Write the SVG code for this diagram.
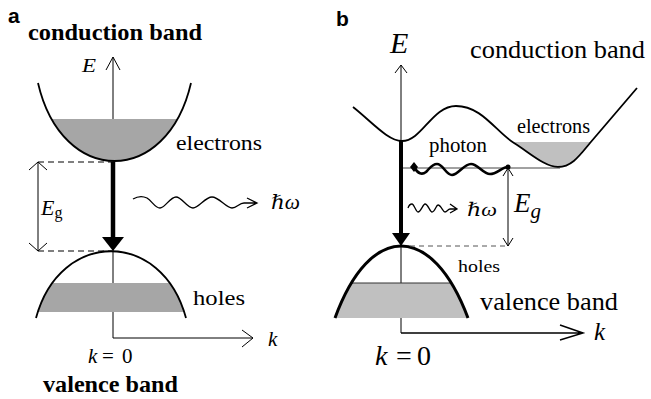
<svg xmlns="http://www.w3.org/2000/svg" width="651" height="399" viewBox="0 0 651 399" font-family="'Liberation Serif', 'Times New Roman', serif">
<style>
text{font-family:'Liberation Serif','Times New Roman',Times,serif;fill:#000}
text.hw{font-family:'Liberation Serif','DejaVu Serif',serif}
.it{font-style:italic}
.bold{font-weight:bold}
text.panel{font-family:'Liberation Sans',Arial,sans-serif;font-weight:bold;font-size:21px}
.thin{fill:none;stroke:#000;stroke-width:1}
.band{fill:none;stroke:#000;stroke-width:1.8}
.dash{fill:none;stroke:#000;stroke-width:1.2;stroke-dasharray:6 4}
</style>
<defs>
<clipPath id="cbA"><path d="M38,83 C62,187 167,187 191,83 Z"/></clipPath>
<clipPath id="vbA"><path d="M36,318 C60,229 162,229 186,318 Z"/></clipPath>
<clipPath id="vbB"><path d="M335,318 C370,222 432,222 468,318 Z"/></clipPath>
</defs>
<rect width="651" height="399" fill="#fff"/>

<!-- Panel a -->
<g id="panel-a">
<text class="panel" x="8" y="23">a</text>
<text class="bold" x="28" y="40" font-size="24" textLength="174" lengthAdjust="spacingAndGlyphs">conduction band</text>
<text class="bold" x="43" y="392" font-size="24" textLength="135" lengthAdjust="spacingAndGlyphs">valence band</text>
</g>
<g id="a-axes">
<path class="thin" d="M113,338 V57 M106,70 L113,57 L120,70"/>
<path class="thin" d="M113,338 H253 M242,330 L253,338 L242,347"/>
<text class="it" x="82" y="72" font-size="18" textLength="14" lengthAdjust="spacingAndGlyphs">E</text>
<text class="it" x="268" y="346" font-size="21">k</text>
<text x="88" y="363" font-size="21"><tspan class="it">k</tspan><tspan x="102">=</tspan><tspan x="122">0</tspan></text>
</g>
<g id="a-conduction">
<rect x="30" y="119" width="170" height="50" fill="#a6a6a6" clip-path="url(#cbA)"/>
<path class="band" d="M38,83 C62,187 167,187 191,83"/>
<text x="176" y="150" font-size="20" textLength="86" lengthAdjust="spacingAndGlyphs">electrons</text>
</g>
<g id="a-valence">
<rect x="30" y="283" width="170" height="29" fill="#a6a6a6" clip-path="url(#vbA)"/>
<path class="band" d="M36,318 C60,229 162,229 186,318"/>
<text x="193" y="305" font-size="21" textLength="52" lengthAdjust="spacingAndGlyphs">holes</text>
</g>
<g id="a-gap">
<path class="dash" d="M38,162 H112 M38,251 H112"/>
<path class="thin" d="M38,162 V251 M29,170 L38,162 L47,170 M29,243 L38,251 L47,243"/>
<text x="41" y="215" font-size="22"><tspan class="it">E</tspan><tspan font-size="16" dy="3">g</tspan></text>
</g>
<g id="a-transition">
<path d="M113,162 V238" stroke="#000" stroke-width="4.5" fill="none"/>
<polygon points="102,237 124,237 113,251" fill="#000"/>
<path fill="none" stroke="#000" stroke-width="1.3" d="M133,199 C138,196 143,196 147,198 C152,201 155,208 160,208 C165,208 170,197 176,197 C182,197 187,208 193,208 C199,208 205,197 212,197 C219,197 226,208 232,208 C237,208 239,203 244,203 L257,203 M247,198 L257,203 L247,208"/>
<text class="it hw" x="271" y="209" font-size="20" textLength="29" lengthAdjust="spacingAndGlyphs">ℏω</text>
</g>

<!-- Panel b -->
<g id="panel-b">
<text class="panel" x="336" y="26">b</text>
</g>
<g id="b-axes">
<path class="thin" d="M401,333 V65 M395,73 L401,65 L407,73"/>
<path fill="none" stroke="#000" stroke-width="1.5" d="M401,333 H583 M560,325 L583,333 L560,340"/>
<text class="it" x="390" y="53" font-size="30">E</text>
<text class="it" x="594" y="340" font-size="25">k</text>
<text x="375" y="365" font-size="28"><tspan class="it">k</tspan><tspan x="396">=</tspan><tspan x="417">0</tspan></text>
</g>
<g id="b-conduction">
<path d="M513,142 H591 L590,143 C580,155 572,167 558,167 C545,167 530,153 514,143 Z" fill="#c0c0c0"/>
<path class="band" d="M353,107 C372,122 388,141 402,141 C422,141 432,106 456,106 C482,106 496,132 514,143 C530,153 545,167 558,167 C572,167 580,155 590,143 L637,88"/>
<text x="470" y="58" font-size="26" textLength="175" lengthAdjust="spacingAndGlyphs">conduction band</text>
<text x="517" y="133" font-size="20" textLength="73" lengthAdjust="spacingAndGlyphs">electrons</text>
</g>
<g id="b-valence">
<rect x="330" y="283" width="150" height="36" fill="#c0c0c0" clip-path="url(#vbB)"/>
<path d="M350,283 H455" stroke="#333" stroke-width="1" clip-path="url(#vbB)"/>
<path fill="none" stroke="#000" stroke-width="3" d="M335,318 C370,222 432,222 468,318"/>
<text x="458" y="272" font-size="17" textLength="42" lengthAdjust="spacingAndGlyphs">holes</text>
<text x="480" y="310" font-size="26" textLength="138" lengthAdjust="spacingAndGlyphs">valence band</text>
</g>
<g id="b-gap">
<path d="M401,168 H560" stroke="#444" stroke-width="1" fill="none"/>
<path d="M410,246 H507" stroke="#555" stroke-width="1" stroke-dasharray="5 4" fill="none"/>
<path class="thin" d="M508,168 V246 M503,176 L508,168 L513,176 M503,238 L508,246 L513,238"/>
<text x="514" y="212" font-size="27"><tspan class="it">E</tspan><tspan class="it" font-size="21" dy="6">g</tspan></text>
</g>
<g id="b-photon">
<path fill="none" stroke="#000" stroke-width="2.6" d="M414,167 C418,174 422,175 426,172 C430,168 432,164 437,164 C443,164 446,175 452,175 C458,175 464,164 471,164 C478,164 483,174 490,174 C497,174 502,167 508,167"/>
<polygon points="414,162 418,167 414,172 410,167" fill="#000"/>
<circle cx="508" cy="167" r="2.5" fill="#000"/>
<text x="429" y="152" font-size="21" textLength="58" lengthAdjust="spacingAndGlyphs">photon</text>
</g>
<g id="b-transition">
<path d="M401,141 V234" stroke="#000" stroke-width="4" fill="none"/>
<polygon points="392,233 410,233 401,246" fill="#000"/>
<path fill="none" stroke="#000" stroke-width="1.3" d="M408,208 C409,205 411,204 412,204 C414,204 416,212 418,212 C421,212 423,204 425,204 C428,204 430,212 432,212 C435,212 436,205 438,205 C441,205 443,212 445,212 C447,212 448,209 450,209 L457,209 M450,204 L457,209 L450,213"/>
<text class="it hw" x="467" y="216" font-size="19" textLength="30" lengthAdjust="spacingAndGlyphs">ℏω</text>
</g>
</svg>
